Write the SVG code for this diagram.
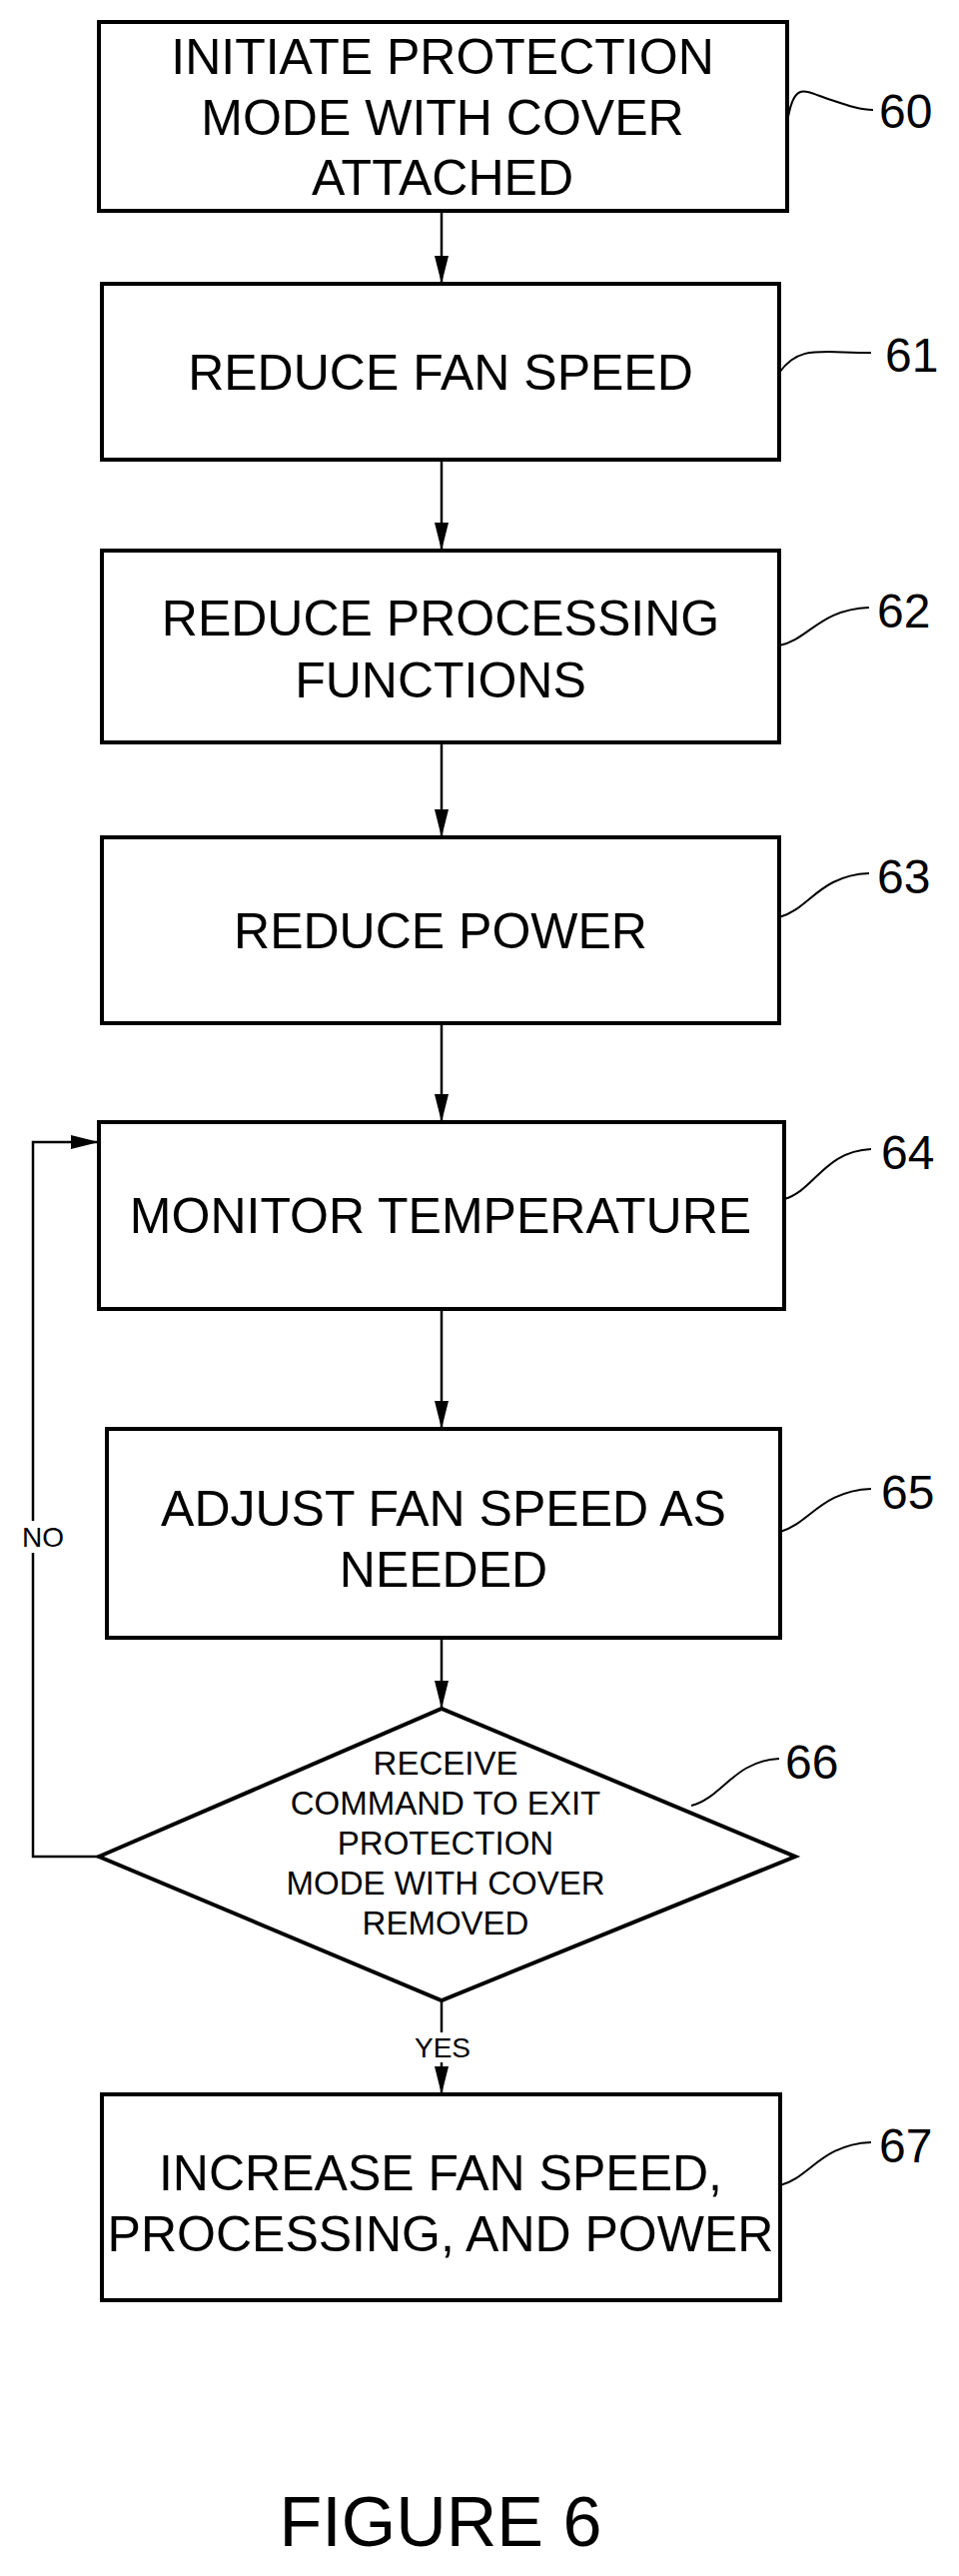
<svg xmlns="http://www.w3.org/2000/svg" width="960" height="2578" viewBox="0 0 960 2578">
<style>
.b{fill:#fff;stroke:#000;stroke-width:4}
.t{font-family:"Liberation Sans",Arial,sans-serif;font-size:50px;text-anchor:middle;fill:#000}
.n{font-family:"Liberation Sans",Arial,sans-serif;font-size:48px;fill:#000}
.s{font-family:"Liberation Sans",Arial,sans-serif;font-size:28px;fill:#000;text-anchor:middle}
.l{fill:none;stroke:#000;stroke-width:2}
.c{fill:none;stroke:#000;stroke-width:2.5}
</style>
<defs><marker id="d" markerWidth="28" markerHeight="14" refX="28" refY="7" orient="auto" markerUnits="userSpaceOnUse"><path d="M0,0 L28,7 L0,14 Z" fill="#000"/></marker></defs>
<rect width="960" height="2578" fill="#fff"/>
<g id="connectors">
<line class="c" x1="442" y1="210" x2="442" y2="284" marker-end="url(#d)"/>
<line class="c" x1="442" y1="460" x2="442" y2="551" marker-end="url(#d)"/>
<line class="c" x1="442" y1="743" x2="442" y2="838" marker-end="url(#d)"/>
<line class="c" x1="442" y1="1024" x2="442" y2="1123" marker-end="url(#d)"/>
<line class="c" x1="442" y1="1310" x2="442" y2="1430" marker-end="url(#d)"/>
<line class="c" x1="442" y1="1639" x2="442" y2="1710" marker-end="url(#d)"/>
<line class="c" x1="442" y1="2002" x2="442" y2="2096" marker-end="url(#d)"/>
<polyline class="c" points="99,1858 33,1858 33,1143 99,1143" marker-end="url(#d)"/>
<rect x="16" y="1522" width="54" height="32" fill="#fff"/>
<text class="s" x="43" y="1548">NO</text>
<rect x="410" y="2034" width="66" height="30" fill="#fff"/>
<text class="s" x="443" y="2059">YES</text>
</g>
<g id="n60"><rect class="b" x="99" y="22" width="689" height="189"/>
<text class="t" x="443" y="74">INITIATE PROTECTION</text><text class="t" x="443" y="135">MODE WITH COVER</text><text class="t" x="443" y="195">ATTACHED</text>
<path class="l" d="M789,117 C796,80 806,92 832,100 C850,106 862,110 874,110"/><text class="n" x="880" y="128">60</text></g>
<g id="n61"><rect class="b" x="102" y="284" width="678" height="176"/>
<text class="t" x="441" y="390">REDUCE FAN SPEED</text>
<path class="l" d="M780,373 C800,345 820,353 872,353"/><text class="n" x="886" y="372">61</text></g>
<g id="n62"><rect class="b" x="102" y="551" width="678" height="192"/>
<text class="t" x="441" y="636">REDUCE PROCESSING</text><text class="t" x="441" y="698">FUNCTIONS</text>
<path class="l" d="M780,646 C810,640 820,610 870,608"/><text class="n" x="878" y="628">62</text></g>
<g id="n63"><rect class="b" x="102" y="838" width="678" height="186"/>
<text class="t" x="441" y="949">REDUCE POWER</text>
<path class="l" d="M780,918 C810,910 820,876 870,874"/><text class="n" x="878" y="894">63</text></g>
<g id="n64"><rect class="b" x="99" y="1123" width="686" height="187"/>
<text class="t" x="441" y="1234">MONITOR TEMPERATURE</text>
<path class="l" d="M785,1200 C815,1192 825,1152 872,1150"/><text class="n" x="882" y="1170">64</text></g>
<g id="n65"><rect class="b" x="107" y="1430" width="674" height="209"/>
<text class="t" x="444" y="1527">ADJUST FAN SPEED AS</text><text class="t" x="444" y="1588">NEEDED</text>
<path class="l" d="M781,1533 C810,1525 822,1492 872,1490"/><text class="n" x="882" y="1510">65</text></g>
<g id="n66"><polygon class="b" points="99,1858 442,1710 796,1858 442,2002"/>
<g class="s" style="font-size:33px"><text x="446" y="1776">RECEIVE</text><text x="446" y="1816">COMMAND TO EXIT</text><text x="446" y="1856">PROTECTION</text><text x="446" y="1896">MODE WITH COVER</text><text x="446" y="1936">REMOVED</text></g>
<path class="l" d="M692,1807 C722,1800 735,1762 780,1760"/><text class="n" x="786" y="1780">66</text></g>
<g id="n67"><rect class="b" x="102" y="2096" width="679" height="206"/>
<text class="t" x="441" y="2192">INCREASE FAN SPEED,</text><text class="t" x="441" y="2253">PROCESSING, AND POWER</text>
<path class="l" d="M781,2187 C810,2180 822,2146 872,2144"/><text class="n" x="880" y="2164">67</text></g>
<text class="t" x="441" y="2548" style="font-size:70px">FIGURE 6</text>
</svg>
